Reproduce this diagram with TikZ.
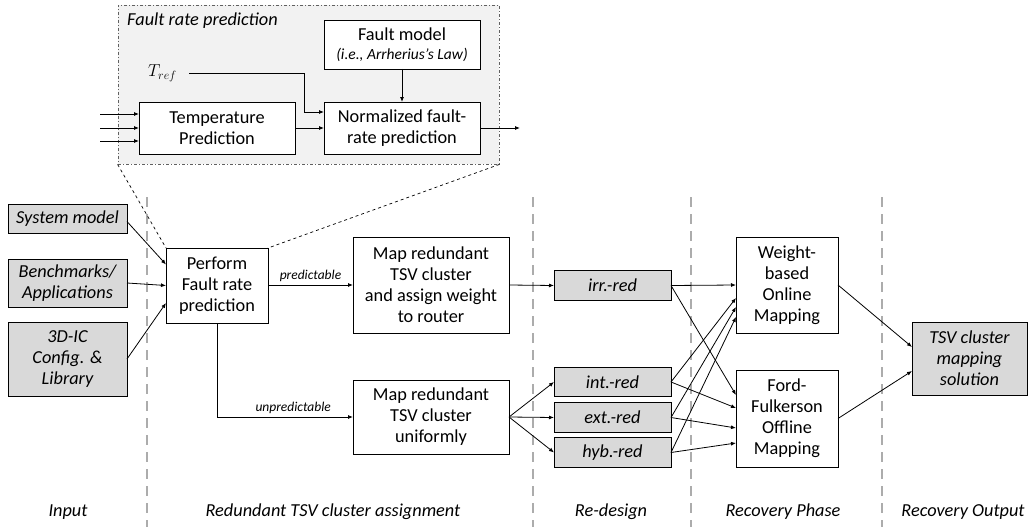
\documentclass[tikz,border=0pt]{standalone}
\usepackage{fontspec}
\setmainfont{Carlito}
\usepackage{tikz}
\usetikzlibrary{arrows.meta,positioning}

\newcommand\bsz{\fontsize{18.3}{21}\selectfont}
\newcommand\ssz{\fontsize{13.5}{15}\selectfont}

\tikzset{
    blk/.style={draw, line width=0.8pt, fill=white, align=center, inner sep=0pt, outer sep=0pt, font=\bsz},
    gblk/.style={blk, fill=gray!30, font=\bsz\itshape},
    arr/.style={-{Latex[length=5pt,width=4pt]}, line width=0.8pt},
    sepline/.style={gray!65, line width=2pt, dash pattern=on 10pt off 7pt},
    phase/.style={font=\bsz\itshape},
}

\begin{document}
\begin{tikzpicture}[x=1pt, y=-1pt]
\useasboundingbox (0,0) rectangle (1028,527);

% phase separators
\foreach \sx in {147,533,691,882}
    \draw [sepline] (\sx,197) -- (\sx,527);

% fault rate prediction detail
\node (fr) [draw=gray!75!black, fill=gray!10, line width=0.8pt,
    dash pattern=on 3pt off 2pt on 1pt off 2pt,
    minimum width=381pt, minimum height=159pt, inner sep=0pt] at (308.5,84.5) {};
\node (frt) [anchor=west, font=\bsz\itshape, inner sep=0pt] at (127,21) {Fault rate prediction};
\node (fm) [blk, minimum width=156pt, minimum height=49pt] at (402,44.5)
    {Fault model\\[-2pt]{\fontsize{15.5}{17}\selectfont\itshape (i.e., Arrherius's Law)}};
\node (tp) [blk, minimum width=156pt, minimum height=52pt] at (217,128) {Temperature\\Prediction};
\node (nf) [blk, minimum width=156pt, minimum height=52pt] at (402,128) {Normalized fault-\\rate prediction};
\node (tref) [anchor=east, inner xsep=12pt, font=\bsz] at (189,73) {$T_{ref}$};
\coordinate (frout) at (520,128);

\foreach \k/\ty in {1/114,2/128,3/141} {
    \coordinate (in\k) at (100,\ty);
    \draw [arr] (in\k) -- (in\k -| tp.west);
}
\draw [arr] (tref.east) -- ++(115,0) |- ([yshift=16pt]nf.west);
\draw [arr] (tp) -- (nf);
\draw [arr] (fm) -- (nf);
\draw [arr] (nf.east) -- (frout);

% inputs
\node (sm) [gblk, minimum width=119pt, minimum height=29pt] at (67.5,218.5) {System model};
\node (bm) [gblk, minimum width=119pt, minimum height=48pt] at (67.5,283) {Benchmarks/\\Applications};
\node (cfg) [gblk, minimum width=119pt, minimum height=74pt] at (67.5,359) {3D-IC\\Config. \&\\Library};

% redundant TSV cluster assignment
\node (pf) [blk, minimum width=102pt, minimum height=75pt] at (217,285.5) {Perform\\Fault rate\\prediction};
\node (m1) [blk, minimum width=156pt, minimum height=96pt] at (431,285) {Map redundant\\TSV cluster\\and assign weight\\to router};
\node (m2) [blk, minimum width=156pt, minimum height=74pt] at (431,417) {Map redundant\\TSV cluster\\uniformly};

\draw [dashed, line width=0.7pt] (fr.south west) -- (pf.north west);
\draw [dashed, line width=0.7pt] (fr.south east) -- (pf.north east);

\draw [arr] ([yshift=-3pt]sm.east) -- ([yshift=21pt]pf.west);
\draw [arr] (bm.east) -- (pf.west);
\draw [arr] (cfg.east) -- ([yshift=-17.5pt]pf.west);
\draw [arr] (pf.east |- m1.west) -- (m1.west)
    node [midway, above, font=\ssz\itshape] {predictable};
\draw [arr] (pf.south) |- (m2.west)
    node [pos=0.78, above, font=\ssz\itshape] {unpredictable};

% re-design
\node (irr) [gblk, minimum width=117pt, minimum height=29.5pt] at (612.5,285.5) {irr.-red};
\node (int) [gblk, minimum width=117pt, minimum height=29.5pt] at (612.5,382) {int.-red};
\node (ext) [gblk, minimum width=117pt, minimum height=29.5pt] at (612.5,417.5) {ext.-red};
\node (hyb) [gblk, minimum width=117pt, minimum height=29.5pt] at (612.5,452.5) {hyb.-red};

\draw [arr] (m1.east) -- (irr.west);
\foreach \r in {int,ext,hyb}
    \draw [arr] (m2.east) -- (\r.west);

% recovery phase
\node (wb) [blk, minimum width=102pt, minimum height=96pt] at (787,285) {Weight-\\based\\Online\\Mapping};
\node (ff) [blk, minimum width=102pt, minimum height=97pt] at (787,418.5) {Ford-\\Fulkerson\\Offline\\Mapping};

\foreach \r/\wy/\fy in {irr/0/23.5,int/-13/10.5,ext/-22/-9.5,hyb/-32/-24.5} {
    \draw [arr] (\r.east) -- ([yshift=\wy pt]wb.west);
    \draw [arr] (\r.east) -- ([yshift=\fy pt]ff.west);
}

% recovery output
\node (out) [gblk, minimum width=115pt, minimum height=73pt] at (969.5,358.5) {TSV cluster\\mapping\\solution};
\draw [arr] (wb.east) -- ([yshift=11.5pt]out.west);
\draw [arr] (ff.east) -- ([yshift=-12.5pt]out.west);

% phase names
\node (lin) [phase] at (68,512) {Input};
\node (lred) [phase] at (333,512) {Redundant TSV cluster assignment};
\node (lrd) [phase] at (611,512) {Re-design};
\node (lrp) [phase] at (783,512) {Recovery Phase};
\node (lro) [phase] at (963,512) {Recovery Output};

\end{tikzpicture}
\end{document}
